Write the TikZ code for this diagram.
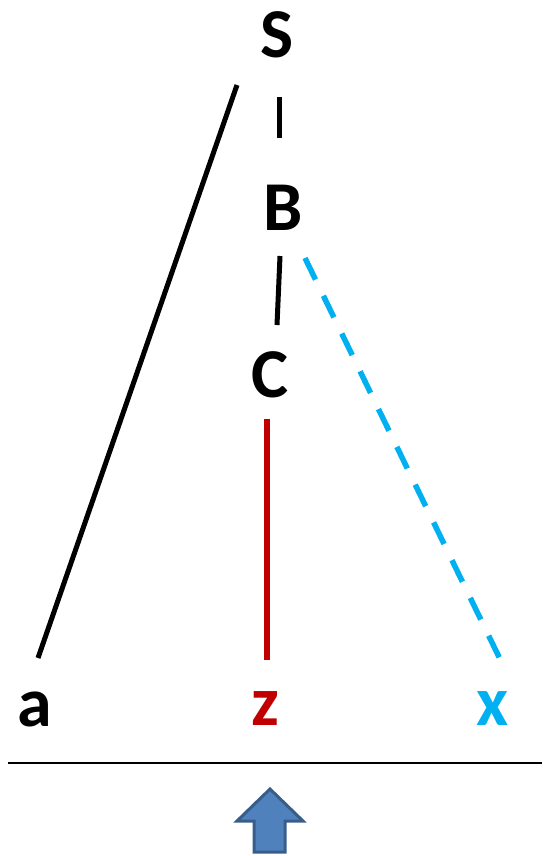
\documentclass[tikz,border=0pt]{standalone}
\usepackage{fontspec}
\setmainfont{Carlito}
\definecolor{tred}{HTML}{C00000}
\definecolor{tblue}{HTML}{00B0F0}
\definecolor{afill}{HTML}{4F81BD}
\definecolor{aline}{HTML}{385D8A}
\begin{document}
\begin{tikzpicture}[x=1pt,y=-1pt,
  sym/.style={inner sep=0pt,font=\fontsize{70}{84}\selectfont\bfseries},
  edge/.style={line width=5pt},
  redge/.style={line width=5.5pt,draw=tred},
  bedge/.style={line width=5.5pt,draw=tblue,dash pattern=on 24pt off 18pt}]
\useasboundingbox (0,0) rectangle (542,856);
\node[sym] (S) at (277,35) {S};
\node[sym] (B) at (283,208) {B};
\node[sym] (C) at (270,375) {C};
\node[sym] (a) at (35,709) {a};
\node[sym,text=tred] (z) at (265,709) {z};
\node[sym,text=tblue] (x) at (493,709) {x};
\coordinate (Sa1) at (237,85);
\coordinate (Sa2) at (38,658);
\coordinate (SB1) at (279,97);
\coordinate (SB2) at (279,138);
\coordinate (BC1) at (280,256);
\coordinate (BC2) at (277,325);
\coordinate (Bx1) at (305,258);
\coordinate (Bx2) at (500,659);
\coordinate (Cz1) at (267,419);
\coordinate (Cz2) at (267,660);
\coordinate (L1) at (8,763);
\coordinate (L2) at (542,763);
\draw[edge] (Sa1) -- (Sa2);
\draw[edge] (SB1) -- (SB2);
\draw[edge] (BC1) -- (BC2);
\draw[bedge] (Bx1) -- (Bx2);
\draw[redge] (Cz1) -- (Cz2);
\draw[line width=2pt] (L1) -- (L2);
\draw[fill=afill,draw=aline,line width=3pt,line join=miter]
  (270,789) -- (303,821) -- (285,821) -- (285,852) -- (254,852) -- (254,821) -- (237,821) -- cycle;
\end{tikzpicture}
\end{document}
